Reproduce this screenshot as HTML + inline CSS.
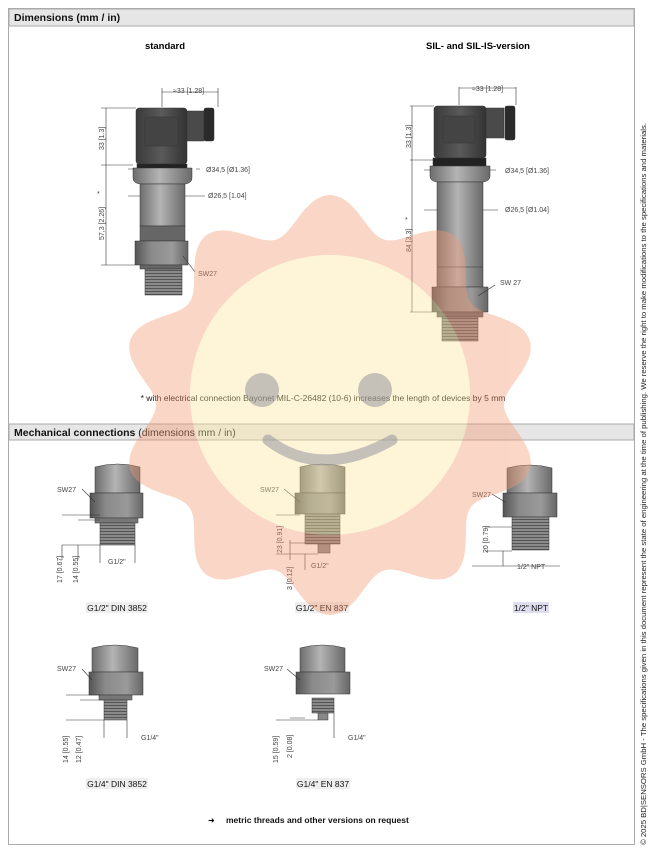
<!DOCTYPE html>
<html><head><meta charset="utf-8"><style>
html,body{margin:0;padding:0;background:#fff;width:658px;height:854px;overflow:hidden}
svg{display:block;font-family:"Liberation Sans",Arial,sans-serif}
</style></head><body>
<svg width="658" height="854" viewBox="0 0 658 854" xmlns="http://www.w3.org/2000/svg">
<defs>
<linearGradient id="met" x1="0" x2="1"><stop offset="0" stop-color="#6e6e6e"/><stop offset=".45" stop-color="#b4b4b4"/><stop offset="1" stop-color="#6a6a6a"/></linearGradient>
<linearGradient id="dk" x1="0" x2="1"><stop offset="0" stop-color="#3a3a3a"/><stop offset=".5" stop-color="#5a5a5a"/><stop offset="1" stop-color="#333"/></linearGradient>
<linearGradient id="hex" x1="0" x2="1"><stop offset="0" stop-color="#555"/><stop offset=".3" stop-color="#8a8a8a"/><stop offset=".7" stop-color="#9a9a9a"/><stop offset="1" stop-color="#666"/></linearGradient>
<pattern id="thr" width="4" height="3" patternUnits="userSpaceOnUse"><rect width="4" height="3" fill="#8a8a8a"/><rect width="4" height="1" fill="#555"/></pattern>
</defs>
<rect x="8.5" y="8.5" width="626" height="836" fill="#fff" stroke="#aaa"/>
<rect x="9" y="9" width="625" height="17" fill="#e6e6e6" stroke="#aaa"/>
<text x="14" y="21" font-size="10.5" font-weight="bold" fill="#111">Dimensions (mm / in)</text>
<rect x="9" y="424" width="625" height="16" fill="#e6e6e6" stroke="#aaa"/>
<text x="14" y="436" font-size="10.5" font-weight="bold" fill="#111">Mechanical connections <tspan font-weight="normal">(dimensions mm / in)</tspan></text>
<text x="165" y="49" font-size="9.5" font-weight="bold" text-anchor="middle">standard</text>
<text x="478" y="49" font-size="9.5" font-weight="bold" text-anchor="middle">SIL- and SIL-IS-version</text>

<g stroke="#333" stroke-width=".5">
<rect x="136" y="108" width="51" height="56" rx="3" fill="url(#dk)"/>
<rect x="145" y="117" width="33" height="29" rx="2" fill="#444"/>
<rect x="187" y="111" width="17" height="30" fill="#4a4a4a"/>
<rect x="204" y="108" width="10" height="33" rx="2" fill="#2a2a2a"/>
<rect x="137" y="164" width="50" height="6" fill="#222"/>
<path d="M133 168 H192 V178 Q192 183 185 184 H140 Q133 183 133 178Z" fill="url(#met)"/>
<rect x="140" y="184" width="45" height="42" fill="url(#met)"/>
<rect x="140" y="226" width="45" height="15" fill="#666"/>
<rect x="135" y="241" width="53" height="24" fill="url(#hex)"/>
<rect x="140" y="265" width="42" height="4" fill="#666"/>
<rect x="145" y="269" width="37" height="26" fill="url(#thr)"/>
</g>
<g stroke="#333" stroke-width=".6" fill="none">
<path d="M162 107 V88 M218 107 V88 M162 92 H218"/>
<path d="M101 108 H136 M101 165 H133 M101 265 H135 M106 108 V265"/>
<path d="M128 169 H134 M196 169 H200 M128 196 H140 M185 196 H205 M183 256 L195 272"/>
</g>
<g font-size="7" fill="#444">
<text x="173" y="93">≈33 [1.28]</text>
<text x="206" y="172">Ø34,5 [Ø1.36]</text>
<text x="208" y="198">Ø26,5 [1.04]</text>
<text x="198" y="276">SW27</text>
<text transform="translate(104,150) rotate(-90)">33 [1.3]</text>
<text transform="translate(104,240) rotate(-90)">57,3 [2.26]</text>
<text x="97" y="196">*</text>
</g>

<g stroke="#333" stroke-width=".5">
<rect x="434" y="106" width="52" height="52" rx="3" fill="url(#dk)"/>
<rect x="443" y="116" width="32" height="27" rx="2" fill="#444"/>
<rect x="486" y="108" width="18" height="30" fill="#4a4a4a"/>
<rect x="505" y="106" width="10" height="34" rx="2" fill="#2a2a2a"/>
<rect x="433" y="158" width="53" height="8" fill="#222"/>
<path d="M430 166 H490 V176 Q490 181 483 182 H437 Q430 181 430 176Z" fill="url(#met)"/>
<rect x="437" y="182" width="46" height="105" fill="url(#met)"/>
<line x1="437" y1="267" x2="483" y2="267"/>
<rect x="432" y="287" width="56" height="25" fill="url(#hex)"/>
<rect x="437" y="312" width="46" height="5" fill="#666"/>
<rect x="442" y="317" width="36" height="24" fill="url(#thr)"/>
</g>
<g stroke="#333" stroke-width=".6" fill="none">
<path d="M459 105 V87 M516 105 V87 M459 88 H516"/>
<path d="M410 106 H434 M410 160 H433 M410 312 H432 M412 106 V312"/>
<path d="M424 170 H431 M490 170 H496 M424 210 H437 M483 210 H498 M478 296 L495 285"/>
</g>
<g font-size="7" fill="#444">
<text x="472" y="91">≈33 [1.28]</text>
<text x="505" y="173">Ø34,5 [Ø1.36]</text>
<text x="505" y="212">Ø26,5 [Ø1.04]</text>
<text x="500" y="285">SW 27</text>
<text transform="translate(411,148) rotate(-90)">33 [1.3]</text>
<text transform="translate(411,252) rotate(-90)">84 [3.3]</text>
<text x="405" y="222">*</text>
</g>
<text x="323" y="401" font-size="8.5" text-anchor="middle" fill="#111">* with electrical connection Bayonet MIL-C-26482 (10-6) increases the length of devices by 5 mm</text>

<g stroke="#333" stroke-width=".5">
<path d="M95 467 Q118 461 140 467 V493 H95Z" fill="url(#met)"/>
<rect x="90" y="493" width="53" height="25" fill="url(#hex)"/>
<rect x="95" y="518" width="43" height="5" fill="#777"/>
<rect x="100" y="523" width="35" height="22" fill="url(#thr)"/>
<path d="M300 467 Q322 461 345 467 V493 H300Z" fill="url(#met)"/>
<rect x="295" y="493" width="50" height="21" fill="url(#hex)"/>
<rect x="305" y="514" width="35" height="30" fill="url(#thr)"/>
<rect x="318" y="544" width="12" height="9" fill="#888"/>
<path d="M507 468 Q530 462 552 468 V493 H507Z" fill="url(#met)"/>
<rect x="503" y="493" width="54" height="24" fill="url(#hex)"/>
<rect x="512" y="517" width="37" height="33" fill="url(#thr)"/>
<path d="M92 648 Q115 642 138 648 V672 H92Z" fill="url(#met)"/>
<rect x="89" y="672" width="54" height="23" fill="url(#hex)"/>
<rect x="99" y="695" width="33" height="5" fill="#777"/>
<rect x="104" y="700" width="23" height="20" fill="url(#thr)"/>
<path d="M300 648 Q322 642 345 648 V672 H300Z" fill="url(#met)"/>
<rect x="296" y="672" width="54" height="22" fill="url(#hex)"/>
<rect x="312" y="698" width="22" height="15" fill="url(#thr)"/>
<rect x="318" y="713" width="10" height="7" fill="#888"/>
</g>
<g stroke="#333" stroke-width=".6" fill="none">
<path d="M82 489 L95 502 M62 515 H100 M78 520 H100 M62 545 H100 M78 545 V560 M62 545 V560 M100 545 V563 M135 545 V563"/>
<path d="M284 489 L300 502 M276 515 H300 M276 554 H318 M290 543 H305 M290 540 V560 M305 554 V570"/>
<path d="M492 494 L505 502 M485 527 H512 M485 551 H512 M503 551 V566 M472 566 H560"/>
<path d="M82 669 L92 680 M66 695 H100 M80 700 H104 M66 720 H104 M104 720 V738 M127 720 V738"/>
<path d="M287 669 L300 680 M276 720 H318 M290 718 H305 M334 713 V738"/>
</g>
<g font-size="7" fill="#444">
<text x="57" y="492">SW27</text>
<text x="108" y="564">G1/2"</text>
<text transform="translate(62,583) rotate(-90)">17 [0.67]</text>
<text transform="translate(78,583) rotate(-90)">14 [0.55]</text>
<text x="260" y="492">SW27</text>
<text x="311" y="568">G1/2"</text>
<text transform="translate(282,553) rotate(-90)">23 [0.91]</text>
<text transform="translate(292,590) rotate(-90)">3 [0.12]</text>
<text x="472" y="497">SW27</text>
<text x="517" y="569">1/2" NPT</text>
<text transform="translate(488,553) rotate(-90)">20 [0.79]</text>
<text x="57" y="671">SW27</text>
<text x="141" y="740">G1/4"</text>
<text transform="translate(68,763) rotate(-90)">14 [0.55]</text>
<text transform="translate(81,763) rotate(-90)">12 [0.47]</text>
<text x="264" y="671">SW27</text>
<text x="348" y="740">G1/4"</text>
<text transform="translate(278,763) rotate(-90)">15 [0.59]</text>
<text transform="translate(292,758) rotate(-90)">2 [0.08]</text>
</g>
<g font-size="8.5" fill="#111" text-anchor="middle">
<rect x="86" y="602" width="62" height="11" fill="#eee"/><text x="117" y="611">G1/2" DIN 3852</text>
<rect x="295" y="602" width="54" height="11" fill="#eee"/><text x="322" y="611">G1/2" EN 837</text>
<rect x="513" y="602" width="36" height="11" fill="#dde"/><text x="531" y="611">1/2" NPT</text>
<rect x="86" y="778" width="62" height="11" fill="#eee"/><text x="117" y="787">G1/4" DIN 3852</text>
<rect x="296" y="778" width="54" height="11" fill="#eee"/><text x="323" y="787">G1/4" EN 837</text>
</g>
<text x="208" y="823" font-size="8">➜</text>
<text x="226" y="823" font-size="8.5" font-weight="bold" fill="#111">metric threads and other versions on request</text>
<text transform="translate(646,845) rotate(-90)" font-size="7" fill="#222" textLength="722" lengthAdjust="spacingAndGlyphs">© 2025 BD|SENSORS GmbH - The specifications given in this document represent the state of engineering at the time of publishing. We reserve the right to make modifications to the specifications and materials.</text>

<g opacity="0.4">
<path id="sunp" fill="#f59a74"/>
<circle cx="330" cy="395" r="140" fill="#fde8a2"/>
</g>
<g opacity="0.5">
<circle cx="262" cy="390" r="17" fill="#8f8f99"/>
<circle cx="375" cy="390" r="17" fill="#8f8f99"/>
<path d="M268 440 Q320 480 392 440" stroke="#8f8f99" stroke-width="11" fill="none" stroke-linecap="round"/>
</g>
</svg>
<script>
var p=[],cx=330,cy=405;
for(var i=0;i<=360;i++){var t=i*Math.PI/180;var r=192+18*Math.cos(10*t);p.push((cx+r*Math.sin(t)).toFixed(1)+","+(cy-r*Math.cos(t)).toFixed(1));}
document.getElementById("sunp").setAttribute("d","M"+p.join(" L")+"Z");
</script>
</body></html>
